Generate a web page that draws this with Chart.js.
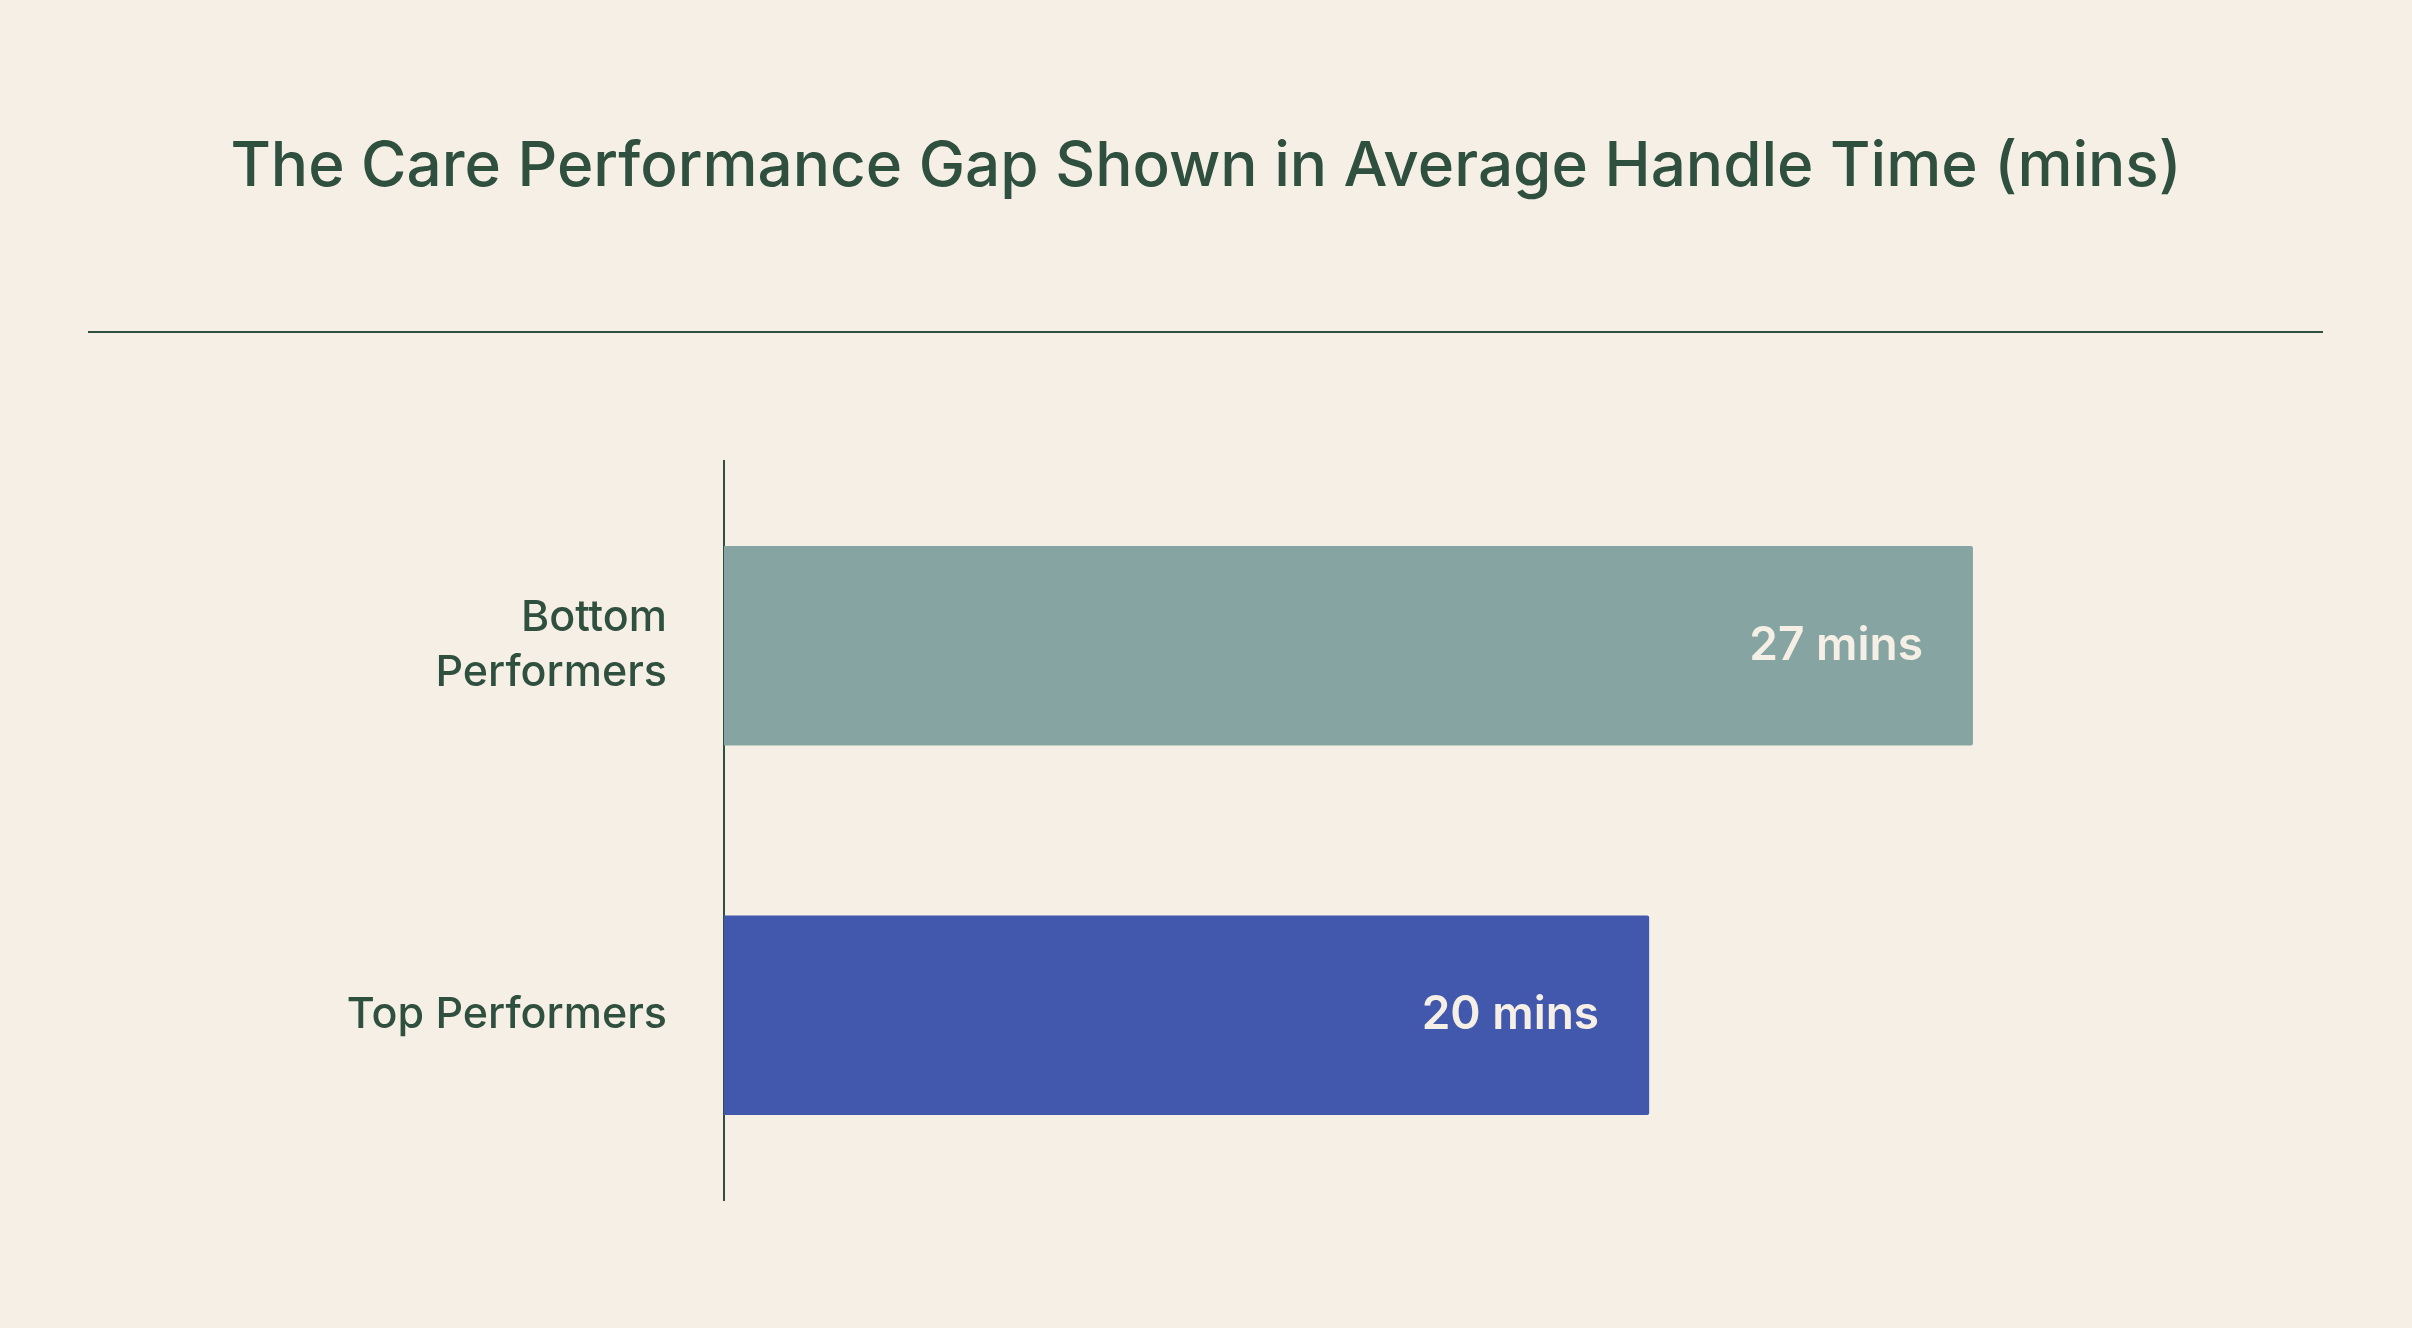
<!DOCTYPE html>
<html>
<head>
<meta charset="utf-8">
<script src="https://cdn.jsdelivr.net/npm/chart.js@4"></script>
<style>
  html, body { margin: 0; padding: 0; background: #F6EFE5; }
  #wrap { width: 2412px; height: 1328px; position: relative; }
</style>
</head>
<body>
<div id="wrap"><canvas id="chart"></canvas></div>
<script>
const categories = [["Bottom", "Performers"], "Top Performers"];
const handleTimes = [27, 20];
const valueLabels = ["27 mins", "20 mins"];
const barColors = ["#86A5A2", "#4158AC"];

const textColor = "#2F4F3F";
const fontFamily = "Inter, 'Noto Sans', sans-serif";

// title + rule above the plot, value labels inside the bars
const decorations = {
  id: "decorations",
  afterDraw(chart) {
    const c = chart.ctx;
    c.save();
    c.fillStyle = textColor;
    c.font = "500 62px " + fontFamily;
    c.textAlign = "center";
    c.textBaseline = "middle";
    c.fillText("The Care Performance Gap Shown in Average Handle Time (mins)", 1206, 167);
    c.strokeStyle = textColor;
    c.lineWidth = 2;
    c.beginPath();
    c.moveTo(88, 332);
    c.lineTo(2323, 332);
    c.stroke();

    const meta = chart.getDatasetMeta(0);
    c.fillStyle = "#F6EFE5";
    c.font = "600 46px " + fontFamily;
    c.textAlign = "right";
    meta.data.forEach((bar, i) => {
      c.fillText(valueLabels[i], bar.x - 50, bar.y);
    });
    c.restore();
  }
};

new Chart(document.getElementById("chart"), {
  type: "bar",
  data: {
    labels: categories,
    datasets: [{
      data: handleTimes,
      backgroundColor: barColors,
      borderRadius: 2,
      barPercentage: 0.54,
      categoryPercentage: 1
    }]
  },
  options: {
    indexAxis: "y",
    responsive: true,
    maintainAspectRatio: false,
    animation: false,
    layout: { padding: { top: 461, bottom: 128, left: 0, right: 69 } },
    plugins: { legend: { display: false }, tooltip: { enabled: false } },
    scales: {
      x: { display: false, min: 0, max: 35 },
      y: {
        afterFit: (s) => { s.width = 724; },
        grid: { display: false },
        border: { display: true, color: textColor, width: 2 },
        ticks: {
          color: textColor,
          padding: 49,
          font: { family: fontFamily, size: 43, weight: "500", lineHeight: 1.28 }
        }
      }
    }
  },
  plugins: [decorations]
});
</script>
</body>
</html>
